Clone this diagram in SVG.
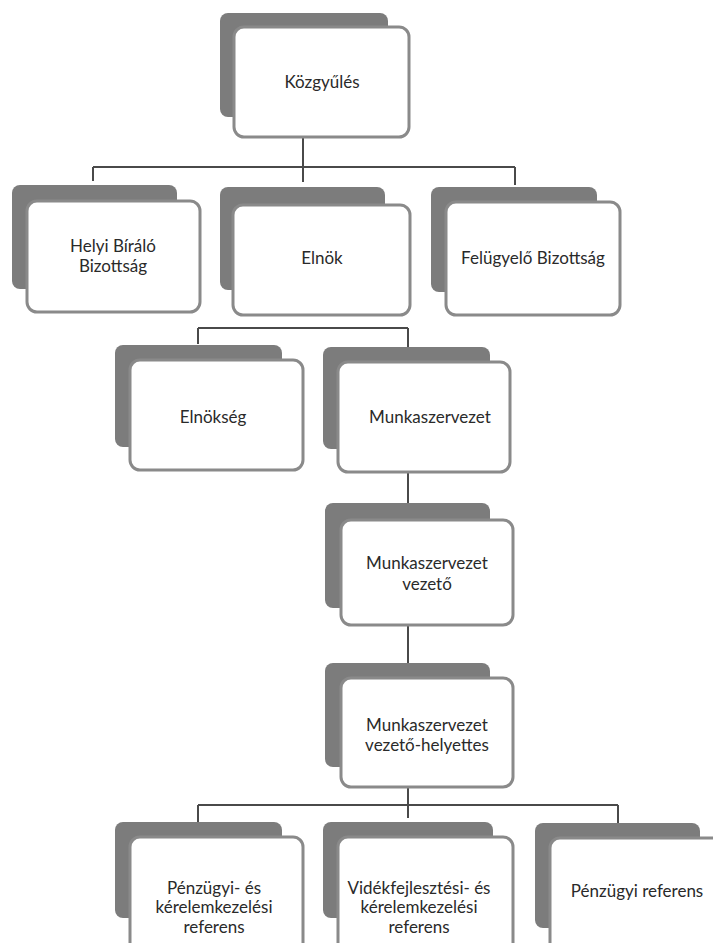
<svg xmlns="http://www.w3.org/2000/svg" width="713" height="943" viewBox="0 0 713 943">
<style>
.sh{fill:#7c7c7c;}
.bx{fill:#ffffff;stroke:#8a8a8a;stroke-width:3;}
.t{font-family:Lato,"Open Sans","Liberation Sans",sans-serif;font-size:17px;fill:#2a2a2a;text-anchor:middle;}
.ln{stroke:#4a4a4a;stroke-width:2;fill:none;}
</style>
<rect width="713" height="943" fill="#ffffff"/>
<g id="connectors">
<path class="ln" d="M303,137 V182 M93,167 H515 M93,167 V181 M515,167 V185"/>
<path class="ln" d="M198,328 H408 M198,328 V344 M408,328 V347"/>
<path class="ln" d="M408,472 V503"/>
<path class="ln" d="M408,625 V663"/>
<path class="ln" d="M408,787 V818 M198,805 H618 M198,805 V822 M618,805 V823"/>
</g>
<g id="n-kozgyules">
<rect class="sh" x="220" y="13" width="168" height="104" rx="8"/>
<rect class="bx" x="234" y="27" width="175" height="110" rx="10"/>
<text class="t" x="322" y="88">Közgyűlés</text>
</g>
<g id="n-helyi">
<rect class="sh" x="12" y="185" width="165" height="104" rx="8"/>
<rect class="bx" x="27" y="201" width="173" height="111" rx="10"/>
<text class="t" x="113" y="252">Helyi Bíráló</text>
<text class="t" x="113" y="272">Bizottság</text>
</g>
<g id="n-elnok">
<rect class="sh" x="220" y="187" width="165" height="103" rx="8"/>
<rect class="bx" x="233" y="205" width="177" height="110" rx="10"/>
<text class="t" x="322" y="264">Elnök</text>
</g>
<g id="n-felugyelo">
<rect class="sh" x="431" y="187" width="166" height="105" rx="8"/>
<rect class="bx" x="446" y="202" width="174" height="113" rx="10"/>
<text class="t" x="533" y="264">Felügyelő Bizottság</text>
</g>
<g id="n-elnokseg">
<rect class="sh" x="115" y="345" width="167" height="102" rx="8"/>
<rect class="bx" x="130" y="360" width="173" height="110" rx="10"/>
<text class="t" x="213" y="423">Elnökség</text>
</g>
<g id="n-munkaszervezet">
<rect class="sh" x="323" y="347" width="167" height="102" rx="8"/>
<rect class="bx" x="338" y="362" width="172" height="110" rx="10"/>
<text class="t" x="430" y="423">Munkaszervezet</text>
</g>
<g id="n-vezeto">
<rect class="sh" x="325" y="503" width="165" height="105" rx="8"/>
<rect class="bx" x="341" y="520" width="172" height="105" rx="10"/>
<text class="t" x="427" y="569">Munkaszervezet</text>
<text class="t" x="427" y="590">vezető</text>
</g>
<g id="n-helyettes">
<rect class="sh" x="325" y="663" width="165" height="104" rx="8"/>
<rect class="bx" x="341" y="678" width="172" height="109" rx="10"/>
<text class="t" x="427" y="731">Munkaszervezet</text>
<text class="t" x="427" y="751">vezető-helyettes</text>
</g>
<g id="n-penzugyi-kerelem">
<rect class="sh" x="115" y="822" width="167" height="96" rx="8"/>
<rect class="bx" x="130" y="837" width="173" height="130" rx="10"/>
<text class="t" x="214" y="894">Pénzügyi- és</text>
<text class="t" x="214" y="913">kérelemkezelési</text>
<text class="t" x="214" y="933">referens</text>
</g>
<g id="n-videk">
<rect class="sh" x="323" y="822" width="170" height="96" rx="8"/>
<rect class="bx" x="338" y="837" width="175" height="130" rx="10"/>
<text class="t" x="419" y="894">Vidékfejlesztési- és</text>
<text class="t" x="419" y="913">kérelemkezelési</text>
<text class="t" x="419" y="933">referens</text>
</g>
<g id="n-penzugyi-referens">
<rect class="sh" x="535" y="823" width="165" height="105" rx="8"/>
<rect class="bx" x="550" y="838" width="185" height="130" rx="10"/>
<text class="t" x="637" y="897">Pénzügyi referens</text>
</g>
</svg>
